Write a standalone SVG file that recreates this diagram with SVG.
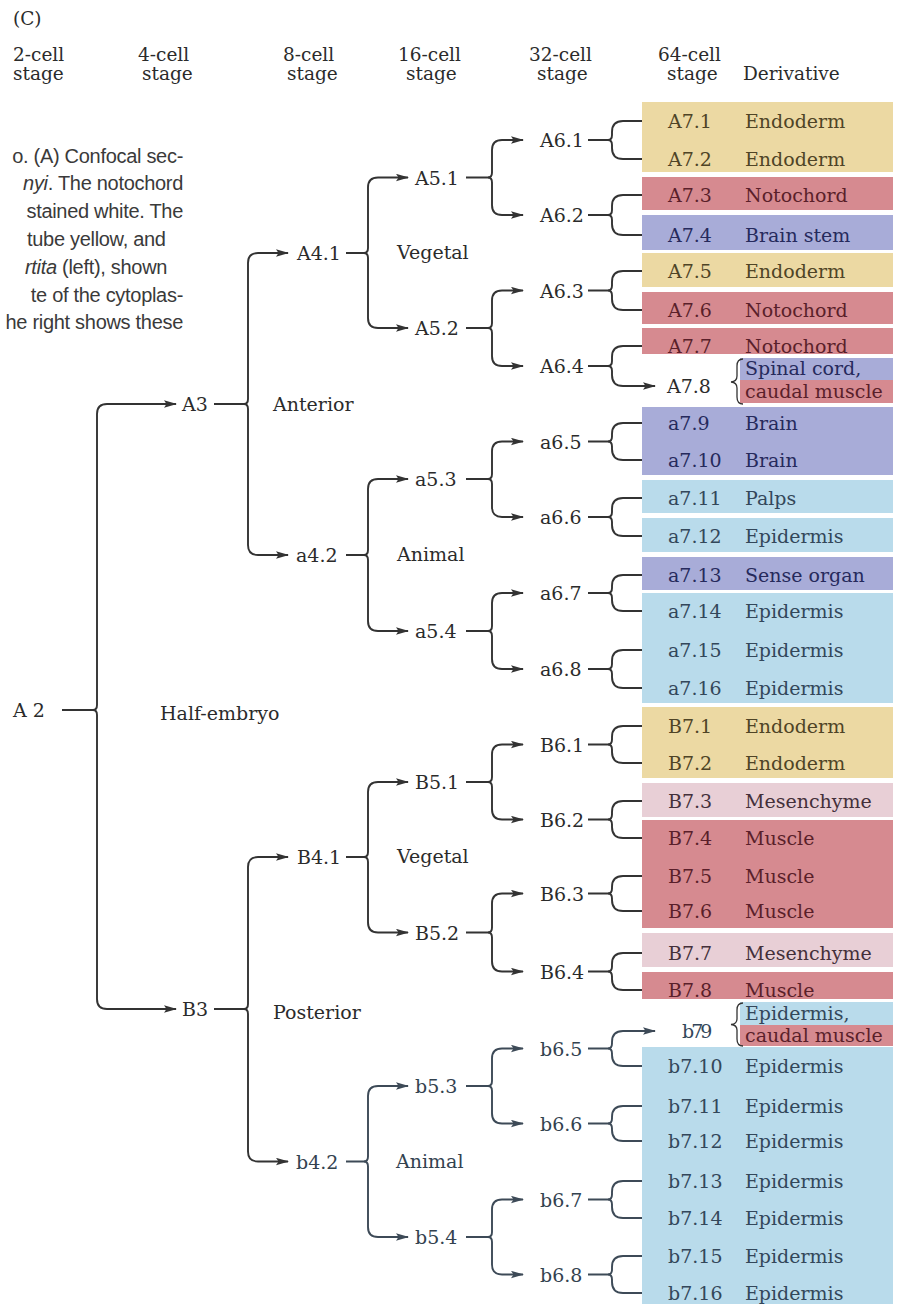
<svg xmlns="http://www.w3.org/2000/svg" width="898" height="1304" viewBox="0 0 898 1304">
<style>
.t{font-family:"DejaVu Serif","Liberation Serif",serif;font-size:19px;fill:#2b2b2b}
.h{font-family:"DejaVu Serif","Liberation Serif",serif;font-size:18.5px;fill:#2b2b2b}
.cap{font-family:"Liberation Sans","Open Sans",sans-serif;font-size:20px;letter-spacing:-0.3px;fill:#3a3a3a}
.sl{fill:#33424f}
.c{fill:none;stroke:#333;stroke-width:1.9;marker-end:url(#ah)}
.cs{fill:none;stroke:#3d4a57;stroke-width:1.9;marker-end:url(#ahs)}
.br{fill:none;stroke:#333;stroke-width:1.3}
.y{fill:#ecd9a3}.yt{fill:#4f4426}
.r{fill:#d68a90}.rt{fill:#5a1f2a}
.p{fill:#a8acd8}.pt{fill:#262a5c}
.b{fill:#b9dbeb}.bt{fill:#33475a}
.k{fill:#e8cfd6}.kt{fill:#44303a}
</style>
<defs>
<marker id="ah" viewBox="0 0 13 8" refX="12" refY="4" markerWidth="13" markerHeight="8" markerUnits="userSpaceOnUse" orient="auto"><path d="M0,0.3 L13,4 L0,7.7 L2.5,4 Z" fill="#333"/></marker>
<marker id="ahs" viewBox="0 0 13 8" refX="12" refY="4" markerWidth="13" markerHeight="8" markerUnits="userSpaceOnUse" orient="auto"><path d="M0,0.3 L13,4 L0,7.7 L2.5,4 Z" fill="#3d4a57"/></marker>
</defs>
<rect width="898" height="1304" fill="#ffffff"/>

<g id="caption">
<text class="cap" x="183" y="163" text-anchor="end">o. (A) Confocal sec-</text>
<text class="cap" x="183" y="190" text-anchor="end"><tspan font-style="italic">nyi</tspan>. The notochord</text>
<text class="cap" x="183" y="218" text-anchor="end">stained white. The</text>
<text class="cap" x="27" y="246">tube yellow, and</text>
<text class="cap" x="25" y="274"><tspan font-style="italic">rtita</tspan> (left), shown</text>
<text class="cap" x="183" y="302" text-anchor="end">te of the cytoplas-</text>
<text class="cap" x="183" y="329" text-anchor="end">he right shows these</text>
</g>

<g id="header">
<text class="h" x="13" y="25">(C)</text>
<text class="h" x="13" y="61">2-cell</text><text class="h" x="13" y="80">stage</text>
<text class="h" x="138" y="61">4-cell</text><text class="h" x="142" y="80">stage</text>
<text class="h" x="283" y="61">8-cell</text><text class="h" x="287" y="80">stage</text>
<text class="h" x="398" y="61">16-cell</text><text class="h" x="406" y="80">stage</text>
<text class="h" x="529" y="61">32-cell</text><text class="h" x="537" y="80">stage</text>
<text class="h" x="658" y="61">64-cell</text><text class="h" x="667" y="80">stage</text>
<text class="h" x="743" y="80">Derivative</text>
</g>

<g id="connectors">
<path class="c" d="M62 710 H93 Q97 710 97 705 V414 Q97 404 107 404 H176"/>
<path class="c" d="M93 710 Q97 710 97 715 V999 Q97 1009 107 1009 H176"/>
<path class="c" d="M214 404 H244 Q248 404 248 399 V263 Q248 253 258 253 H288"/>
<path class="c" d="M244 404 Q248 404 248 409 V545 Q248 555 258 555 H288"/>
<path class="c" d="M214 1009 H244 Q248 1009 248 1004 V867 Q248 857 258 857 H288"/>
<path class="c" d="M244 1009 Q248 1009 248 1014 V1151.5 Q248 1161.5 258 1161.5 H288"/>
<path class="c" d="M346 253 H364 Q368 253 368 248 V187.5 Q368 177.5 378 177.5 H408"/>
<path class="c" d="M364 253 Q368 253 368 258 V318 Q368 328 378 328 H408"/>
<path class="c" d="M346 555 H364 Q368 555 368 550 V489 Q368 479 378 479 H408"/>
<path class="c" d="M364 555 Q368 555 368 560 V621 Q368 631 378 631 H408"/>
<path class="c" d="M346 857 H364 Q368 857 368 852 V792 Q368 782 378 782 H408"/>
<path class="c" d="M364 857 Q368 857 368 862 V922.5 Q368 932.5 378 932.5 H408"/>
<path class="cs" d="M346 1161.5 H364 Q368 1161.5 368 1156.5 V1096 Q368 1086 378 1086 H408"/>
<path class="cs" d="M364 1161.5 Q368 1161.5 368 1166.5 V1227 Q368 1237 378 1237 H408"/>
<path class="c" d="M466 177.5 H488 Q492 177.5 492 172.5 V150 Q492 140 502 140 H523"/>
<path class="c" d="M488 177.5 Q492 177.5 492 182.5 V205 Q492 215 502 215 H523"/>
<path class="c" d="M466 328 H488 Q492 328 492 323 V300.5 Q492 290.5 502 290.5 H523"/>
<path class="c" d="M488 328 Q492 328 492 333 V356 Q492 366 502 366 H523"/>
<path class="c" d="M466 479 H488 Q492 479 492 474 V451.5 Q492 441.5 502 441.5 H523"/>
<path class="c" d="M488 479 Q492 479 492 484 V507 Q492 517 502 517 H523"/>
<path class="c" d="M466 631 H488 Q492 631 492 626 V603 Q492 593 502 593 H523"/>
<path class="c" d="M488 631 Q492 631 492 636 V659 Q492 669 502 669 H523"/>
<path class="c" d="M466 782 H488 Q492 782 492 777 V754.5 Q492 744.5 502 744.5 H523"/>
<path class="c" d="M488 782 Q492 782 492 787 V809.5 Q492 819.5 502 819.5 H523"/>
<path class="c" d="M466 932.5 H488 Q492 932.5 492 927.5 V903.5 Q492 893.5 502 893.5 H523"/>
<path class="c" d="M488 932.5 Q492 932.5 492 937.5 V961.5 Q492 971.5 502 971.5 H523"/>
<path class="cs" d="M466 1086 H488 Q492 1086 492 1081 V1058.5 Q492 1048.5 502 1048.5 H523"/>
<path class="cs" d="M488 1086 Q492 1086 492 1091 V1113.5 Q492 1123.5 502 1123.5 H523"/>
<path class="cs" d="M466 1237 H488 Q492 1237 492 1232 V1209.5 Q492 1199.5 502 1199.5 H523"/>
<path class="cs" d="M488 1237 Q492 1237 492 1242 V1264.5 Q492 1274.5 502 1274.5 H523"/>
<path class="c" d="M588 140 H608 Q612 140 612 135 V132 Q612 121 623 121 H655"/>
<path class="c" d="M608 140 Q612 140 612 145 V148 Q612 159 623 159 H655"/>
<path class="c" d="M588 215 H608 Q612 215 612 210 V206 Q612 195 623 195 H655"/>
<path class="c" d="M608 215 Q612 215 612 220 V224 Q612 235 623 235 H655"/>
<path class="c" d="M588 290.5 H608 Q612 290.5 612 285.5 V282 Q612 271 623 271 H655"/>
<path class="c" d="M608 290.5 Q612 290.5 612 295.5 V299 Q612 310 623 310 H655"/>
<path class="c" d="M588 366 H608 Q612 366 612 361 V357 Q612 346 623 346 H655"/>
<path class="c" d="M608 366 Q612 366 612 371 V375 Q612 386 623 386 H655"/>
<path class="c" d="M588 441.5 H608 Q612 441.5 612 436.5 V434 Q612 423 623 423 H655"/>
<path class="c" d="M608 441.5 Q612 441.5 612 446.5 V449 Q612 460 623 460 H655"/>
<path class="c" d="M588 517 H608 Q612 517 612 512 V509 Q612 498 623 498 H655"/>
<path class="c" d="M608 517 Q612 517 612 522 V525 Q612 536 623 536 H655"/>
<path class="c" d="M588 593 H608 Q612 593 612 588 V586 Q612 575 623 575 H655"/>
<path class="c" d="M608 593 Q612 593 612 598 V600 Q612 611 623 611 H655"/>
<path class="c" d="M588 669 H608 Q612 669 612 664 V661 Q612 650 623 650 H655"/>
<path class="c" d="M608 669 Q612 669 612 674 V677 Q612 688 623 688 H655"/>
<path class="c" d="M588 744.5 H608 Q612 744.5 612 739.5 V737 Q612 726 623 726 H655"/>
<path class="c" d="M608 744.5 Q612 744.5 612 749.5 V752 Q612 763 623 763 H655"/>
<path class="c" d="M588 819.5 H608 Q612 819.5 612 814.5 V812 Q612 801 623 801 H655"/>
<path class="c" d="M608 819.5 Q612 819.5 612 824.5 V827 Q612 838 623 838 H655"/>
<path class="c" d="M588 893.5 H608 Q612 893.5 612 888.5 V887 Q612 876 623 876 H655"/>
<path class="c" d="M608 893.5 Q612 893.5 612 898.5 V900 Q612 911 623 911 H655"/>
<path class="c" d="M588 971.5 H608 Q612 971.5 612 966.5 V964 Q612 953 623 953 H655"/>
<path class="c" d="M608 971.5 Q612 971.5 612 976.5 V979 Q612 990 623 990 H655"/>
<path class="cs" d="M588 1048.5 H608 Q612 1048.5 612 1043.5 V1042 Q612 1031 623 1031 H655"/>
<path class="cs" d="M608 1048.5 Q612 1048.5 612 1053.5 V1055 Q612 1066 623 1066 H655"/>
<path class="cs" d="M588 1123.5 H608 Q612 1123.5 612 1118.5 V1117 Q612 1106 623 1106 H655"/>
<path class="cs" d="M608 1123.5 Q612 1123.5 612 1128.5 V1130 Q612 1141 623 1141 H655"/>
<path class="cs" d="M588 1199.5 H608 Q612 1199.5 612 1194.5 V1192 Q612 1181 623 1181 H655"/>
<path class="cs" d="M608 1199.5 Q612 1199.5 612 1204.5 V1207 Q612 1218 623 1218 H655"/>
<path class="cs" d="M588 1274.5 H608 Q612 1274.5 612 1269.5 V1267 Q612 1256 623 1256 H655"/>
<path class="cs" d="M608 1274.5 Q612 1274.5 612 1279.5 V1282 Q612 1293 623 1293 H655"/>
</g>

<g id="n-A2"><text class="t" x="13" y="717">A  2</text><text class="t" x="160" y="720">Half-embryo</text></g>
<g id="n-A3"><text class="t" x="182" y="411">A3</text><text class="t" x="273" y="411">Anterior</text></g>
<g id="n-B3"><text class="t" x="182" y="1016">B3</text><text class="t" x="273" y="1019">Posterior</text></g>
<g id="n-A4.1"><text class="t" x="297" y="260">A4.1</text><text class="t" x="397" y="259">Vegetal</text></g>
<g id="n-a4.2"><text class="t" x="296" y="562">a4.2</text><text class="t" x="397" y="561">Animal</text></g>
<g id="n-B4.1"><text class="t" x="297" y="864">B4.1</text><text class="t" x="397" y="863">Vegetal</text></g>
<g id="n-b4.2"><text class="t sl" x="296" y="1168.5">b4.2</text><text class="t sl" x="396" y="1168">Animal</text></g>
<g id="n-A5.1"><text class="t" x="415" y="184.5">A5.1</text></g>
<g id="n-A5.2"><text class="t" x="415" y="335">A5.2</text></g>
<g id="n-a5.3"><text class="t" x="415" y="486">a5.3</text></g>
<g id="n-a5.4"><text class="t" x="415" y="638">a5.4</text></g>
<g id="n-B5.1"><text class="t" x="415" y="789">B5.1</text></g>
<g id="n-B5.2"><text class="t" x="415" y="939.5">B5.2</text></g>
<g id="n-b5.3"><text class="t sl" x="415" y="1093">b5.3</text></g>
<g id="n-b5.4"><text class="t sl" x="415" y="1244">b5.4</text></g>
<g id="n-A6.1"><text class="t" x="540" y="147">A6.1</text></g>
<g id="n-A6.2"><text class="t" x="540" y="222">A6.2</text></g>
<g id="n-A6.3"><text class="t" x="540" y="297.5">A6.3</text></g>
<g id="n-A6.4"><text class="t" x="540" y="373">A6.4</text></g>
<g id="n-a6.5"><text class="t" x="540" y="448.5">a6.5</text></g>
<g id="n-a6.6"><text class="t" x="540" y="524">a6.6</text></g>
<g id="n-a6.7"><text class="t" x="540" y="600">a6.7</text></g>
<g id="n-a6.8"><text class="t" x="540" y="676">a6.8</text></g>
<g id="n-B6.1"><text class="t" x="540" y="751.5">B6.1</text></g>
<g id="n-B6.2"><text class="t" x="540" y="826.5">B6.2</text></g>
<g id="n-B6.3"><text class="t" x="540" y="900.5">B6.3</text></g>
<g id="n-B6.4"><text class="t" x="540" y="978.5">B6.4</text></g>
<g id="n-b6.5"><text class="t sl" x="540" y="1055.5">b6.5</text></g>
<g id="n-b6.6"><text class="t sl" x="540" y="1130.5">b6.6</text></g>
<g id="n-b6.7"><text class="t sl" x="540" y="1206.5">b6.7</text></g>
<g id="n-b6.8"><text class="t sl" x="540" y="1281.5">b6.8</text></g>

<g id="n-A7.1"><rect class="y" x="642" y="102" width="251" height="35"/><text class="t yt" x="668" y="128">A7.1</text><text class="t yt" x="745" y="128">Endoderm</text></g>
<g id="n-A7.2"><rect class="y" x="642" y="137" width="251" height="35"/><text class="t yt" x="668" y="166">A7.2</text><text class="t yt" x="745" y="166">Endoderm</text></g>
<g id="n-A7.3"><rect class="r" x="642" y="177" width="251" height="33"/><text class="t rt" x="668" y="202">A7.3</text><text class="t rt" x="745" y="202">Notochord</text></g>
<g id="n-A7.4"><rect class="p" x="642" y="215" width="251" height="35"/><text class="t pt" x="668" y="242">A7.4</text><text class="t pt" x="745" y="242">Brain stem</text></g>
<g id="n-A7.5"><rect class="y" x="642" y="253" width="251" height="34"/><text class="t yt" x="668" y="278">A7.5</text><text class="t yt" x="745" y="278">Endoderm</text></g>
<g id="n-A7.6"><rect class="r" x="642" y="292" width="251" height="32"/><text class="t rt" x="668" y="317">A7.6</text><text class="t rt" x="745" y="317">Notochord</text></g>
<g id="n-A7.7"><rect class="r" x="642" y="328" width="251" height="26"/><text class="t rt" x="668" y="353">A7.7</text><text class="t rt" x="745" y="353">Notochord</text></g>
<g id="n-A7.8"><rect class="p" x="740" y="358" width="153" height="22"/><rect class="r" x="740" y="380" width="153" height="23"/><path class="br" d="M743 359 Q737 359 737 366 V376 Q737 381.5 731 382 Q737 382.5 737 388 V397 Q737 404 743 404"/><text class="t" x="667" y="393">A7.8</text><text class="t pt" x="745" y="375">Spinal cord,</text><text class="t rt" x="745" y="398">caudal muscle</text></g>
<g id="n-a7.9"><rect class="p" x="642" y="407" width="251" height="34"/><text class="t pt" x="668" y="430">a7.9</text><text class="t pt" x="745" y="430">Brain</text></g>
<g id="n-a7.10"><rect class="p" x="642" y="441" width="251" height="34"/><text class="t pt" x="668" y="467">a7.10</text><text class="t pt" x="745" y="467">Brain</text></g>
<g id="n-a7.11"><rect class="b" x="642" y="480" width="251" height="33"/><text class="t bt" x="668" y="505">a7.11</text><text class="t bt" x="745" y="505">Palps</text></g>
<g id="n-a7.12"><rect class="b" x="642" y="518" width="251" height="34"/><text class="t bt" x="668" y="543">a7.12</text><text class="t bt" x="745" y="543">Epidermis</text></g>
<g id="n-a7.13"><rect class="p" x="642" y="557" width="251" height="33"/><text class="t pt" x="668" y="582">a7.13</text><text class="t pt" x="745" y="582">Sense organ</text></g>
<g id="n-a7.14"><rect class="b" x="642" y="593" width="251" height="37"/><text class="t bt" x="668" y="618">a7.14</text><text class="t bt" x="745" y="618">Epidermis</text></g>
<g id="n-a7.15"><rect class="b" x="642" y="630" width="251" height="37"/><text class="t bt" x="668" y="657">a7.15</text><text class="t bt" x="745" y="657">Epidermis</text></g>
<g id="n-a7.16"><rect class="b" x="642" y="667" width="251" height="36"/><text class="t bt" x="668" y="695">a7.16</text><text class="t bt" x="745" y="695">Epidermis</text></g>
<g id="n-B7.1"><rect class="y" x="642" y="707" width="251" height="35"/><text class="t yt" x="668" y="733">B7.1</text><text class="t yt" x="745" y="733">Endoderm</text></g>
<g id="n-B7.2"><rect class="y" x="642" y="742" width="251" height="36"/><text class="t yt" x="668" y="770">B7.2</text><text class="t yt" x="745" y="770">Endoderm</text></g>
<g id="n-B7.3"><rect class="k" x="642" y="783" width="251" height="34"/><text class="t kt" x="668" y="808">B7.3</text><text class="t kt" x="745" y="808">Mesenchyme</text></g>
<g id="n-B7.4"><rect class="r" x="642" y="820" width="251" height="36"/><text class="t rt" x="668" y="845">B7.4</text><text class="t rt" x="745" y="845">Muscle</text></g>
<g id="n-B7.5"><rect class="r" x="642" y="856" width="251" height="36"/><text class="t rt" x="668" y="883">B7.5</text><text class="t rt" x="745" y="883">Muscle</text></g>
<g id="n-B7.6"><rect class="r" x="642" y="892" width="251" height="36"/><text class="t rt" x="668" y="918">B7.6</text><text class="t rt" x="745" y="918">Muscle</text></g>
<g id="n-B7.7"><rect class="k" x="642" y="933" width="251" height="34"/><text class="t kt" x="668" y="960">B7.7</text><text class="t kt" x="745" y="960">Mesenchyme</text></g>
<g id="n-B7.8"><rect class="r" x="642" y="972" width="251" height="27"/><text class="t rt" x="668" y="997">B7.8</text><text class="t rt" x="745" y="997">Muscle</text></g>
<g id="n-b7.9"><rect class="b" x="740" y="1002" width="153" height="23"/><rect class="r" x="740" y="1025" width="153" height="21"/><path class="br" d="M743 1003 Q737 1003 737 1010 V1019 Q737 1024 731 1024.5 Q737 1025 737 1030 V1039 Q737 1046 743 1046"/><text class="t bt" x="682" y="1038" letter-spacing="-3">b79</text><text class="t bt" x="745" y="1020">Epidermis,</text><text class="t rt" x="745" y="1042">caudal muscle</text></g>
<g id="n-b7.10"><rect class="b" x="642" y="1047" width="251" height="38"/><text class="t bt" x="668" y="1073">b7.10</text><text class="t bt" x="745" y="1073">Epidermis</text></g>
<g id="n-b7.11"><rect class="b" x="642" y="1085" width="251" height="38"/><text class="t bt" x="668" y="1113">b7.11</text><text class="t bt" x="745" y="1113">Epidermis</text></g>
<g id="n-b7.12"><rect class="b" x="642" y="1123" width="251" height="38"/><text class="t bt" x="668" y="1148">b7.12</text><text class="t bt" x="745" y="1148">Epidermis</text></g>
<g id="n-b7.13"><rect class="b" x="642" y="1161" width="251" height="38"/><text class="t bt" x="668" y="1188">b7.13</text><text class="t bt" x="745" y="1188">Epidermis</text></g>
<g id="n-b7.14"><rect class="b" x="642" y="1199" width="251" height="38"/><text class="t bt" x="668" y="1225">b7.14</text><text class="t bt" x="745" y="1225">Epidermis</text></g>
<g id="n-b7.15"><rect class="b" x="642" y="1237" width="251" height="38"/><text class="t bt" x="668" y="1263">b7.15</text><text class="t bt" x="745" y="1263">Epidermis</text></g>
<g id="n-b7.16"><rect class="b" x="642" y="1275" width="251" height="29"/><text class="t bt" x="668" y="1300">b7.16</text><text class="t bt" x="745" y="1300">Epidermis</text></g>
</svg>
